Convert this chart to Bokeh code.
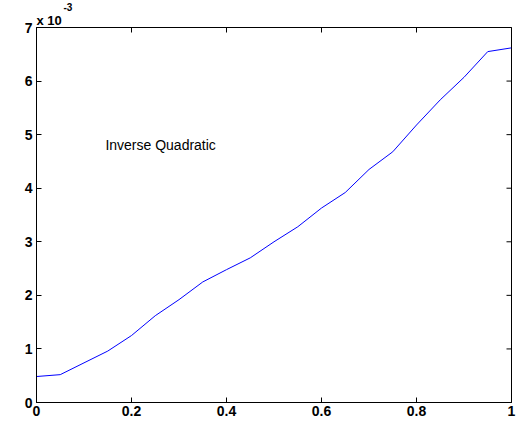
import math
from bokeh.plotting import figure
from bokeh.models import Label, LinearAxis, FixedTicker, CustomJSTickFormatter, Range1d, Title, Span
from bokeh.embed import file_html
from bokeh.resources import INLINE

# data (y in units of 1e-3)
x_vals = [0.0, 0.05, 0.1, 0.15, 0.2, 0.25, 0.3, 0.35, 0.4, 0.45, 0.5,
          0.55, 0.6, 0.65, 0.7, 0.75, 0.8, 0.85, 0.9, 0.95, 1.0]
y_vals_e3 = [0.485, 0.52, 0.74, 0.96, 1.25, 1.62, 1.92, 2.25, 2.48, 2.70, 3.00,
             3.28, 3.63, 3.92, 4.35, 4.68, 5.18, 5.65, 6.07, 6.55, 6.62]
y_vals = [v * 1e-3 for v in y_vals_e3]
x_ticks = [0, 0.2, 0.4, 0.6, 0.8, 1.0]
y_ticks_e3 = [0, 1, 2, 3, 4, 5, 6, 7]
y_ticks = [v * 1e-3 for v in y_ticks_e3]
annotation = "Inverse Quadratic"
exp_base = "x 10"
exp_power = "-3"

FONT = "Liberation Sans"
X0, X1 = 0, 1
Y0, Y1 = 0, 0.007

p = figure(width=518, height=418, output_backend="svg", toolbar_location=None,
           x_range=Range1d(X0, X1), y_range=Range1d(Y0, Y1),
           min_border_left=36, min_border_right=7, min_border_top=0, min_border_bottom=10,
           x_axis_location=None, y_axis_location=None)
p.grid.visible = False
p.outline_line_color = "black"
p.outline_line_width = 1
p.background_fill_color = "white"
p.border_fill_color = "white"

def style(ax):
    ax.axis_line_color = "black"
    ax.axis_line_width = 1
    ax.major_tick_in = 5
    ax.major_tick_out = 0
    ax.minor_tick_in = 0
    ax.minor_tick_out = 0
    ax.major_tick_line_color = "black"
    ax.major_label_text_font = FONT
    ax.major_label_text_font_style = "bold"
    ax.major_label_text_font_size = "14px"
    ax.major_label_text_color = "black"

xb = LinearAxis(ticker=FixedTicker(ticks=x_ticks),
                formatter=CustomJSTickFormatter(code="return (tick === 0 || tick === 1) ? tick.toFixed(0) : tick.toFixed(1);"))
style(xb)
xb.major_label_standoff = 3
p.add_layout(xb, "below")

yl = LinearAxis(ticker=FixedTicker(ticks=y_ticks),
                formatter=CustomJSTickFormatter(code="return Math.round(tick*1000).toString();"))
style(yl)
yl.major_label_standoff = 4
p.add_layout(yl, "left")

# top and right edges of the box
p.add_layout(Span(location=Y1, dimension="width", line_color="black", line_width=1))
p.add_layout(Span(location=X1, dimension="height", line_color="black", line_width=1))

# inward ticks on the top and right edges (half of each dash is clipped by the frame)
p.scatter(x=x_ticks, y=[Y1] * len(x_ticks), marker="dash", angle=math.pi / 2,
          size=10, line_color="black", line_width=1)
p.scatter(x=[X1] * len(y_ticks), y=y_ticks, marker="dash",
          size=10, line_color="black", line_width=1)

p.line(x_vals, y_vals, line_color="#0000ff", line_width=1)

p.add_layout(Label(x=0.145, y=0.0048, text=annotation, text_font=FONT,
                   text_font_size="14px", text_color="black",
                   text_align="left", text_baseline="middle"))

t_base = Title(text=exp_base, align="left", offset=0, standoff=0,
               text_font=FONT, text_font_style="bold", text_font_size="13px",
               text_color="black")
p.add_layout(t_base, "above")

p.title.text = exp_power
p.title.align = "left"
p.title.offset = 27
p.title.standoff = 0
p.title.text_font = FONT
p.title.text_font_style = "bold"
p.title.text_font_size = "10px"
p.title.text_color = "black"

open("out.html", "w").write(file_html(p, INLINE))
